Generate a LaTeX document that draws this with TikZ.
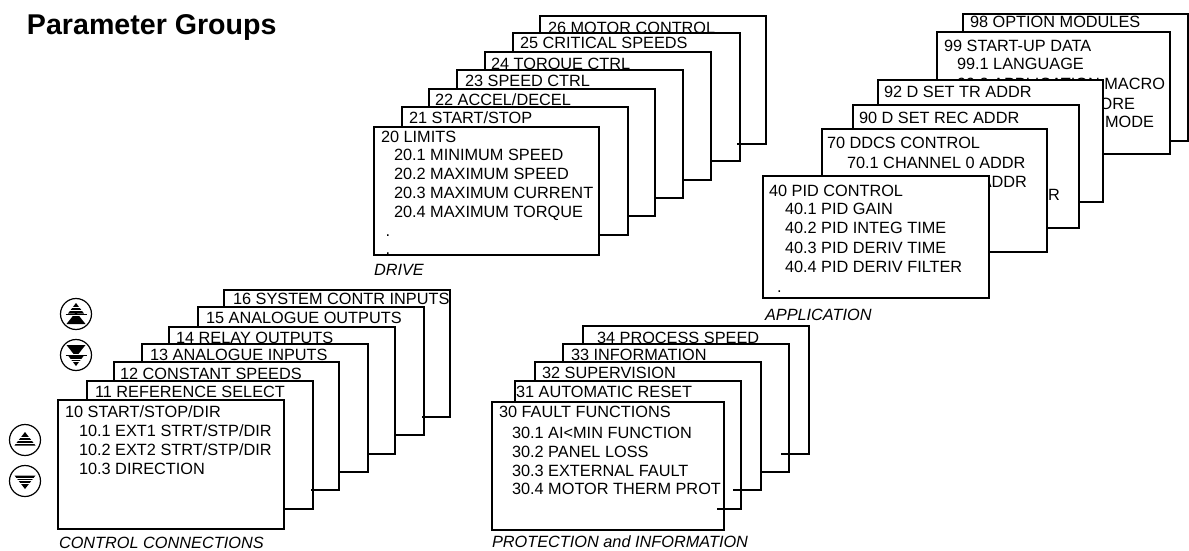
\documentclass[tikz,border=0pt]{standalone}
\usepackage{fontspec}
\setmainfont{Liberation Sans}
\newcommand{\panelbox}[5]{\node[panel,minimum width={\dimexpr #4pt-#2pt\relax},minimum height={\dimexpr #5pt-#3pt\relax}] (#1) at (#2,#3) {};}
\newcommand{\lbl}[4]{\node[lab] (#1) at (#2,#3) {#4};}
\newcommand{\lbr}[4]{\node[lab,anchor=base east] (#1) at (#2,#3) {#4};}
\newcommand{\lbi}[4]{\node[lab,font=\fontsize{16.3}{18}\selectfont\itshape] (#1) at (#2,#3) {#4};}
\tikzset{
  panel/.style={draw=black,fill=white,line width=2.1pt,rectangle,anchor=north west,inner sep=0pt,outer sep=0pt},
  lab/.style={anchor=base west,inner sep=0pt,outer sep=0pt,font=\fontsize{16.3}{18}\selectfont,text=black},
  stub/.style={draw=black,line width=2.1pt},
  keyring/.style={draw=black,fill=white,circle,line width=1.2pt,minimum size=31pt,inner sep=0pt,outer sep=0pt},
  stripe/.style={draw=white,line width=0.9pt},
  singlekey/.pic={
    \fill[black] (0,-8) -- (10.5,5.5) -- (-10.5,5.5) -- cycle;
    \draw[stripe] (-11,-2.2) -- (11,-2.2);
    \draw[stripe] (-11,0.4) -- (11,0.4);
    \draw[stripe] (-11,3) -- (11,3);
  },
  doublekey/.pic={
    \fill[black] (0,-11) -- (8,-0.5) -- (-8,-0.5) -- cycle;
    \draw[stripe] (-9,-6.8) -- (9,-6.8);
    \draw[stripe] (-9,-4) -- (9,-4);
    \fill[black] (0,-2) -- (9.5,10) -- (-9.5,10) -- cycle;
    \draw[stripe] (-11,1) -- (11,1);
    \draw[black,line width=0.7pt] (-10.5,0) -- (10.5,0);
  }
}
\begin{document}
\begin{tikzpicture}[x=1pt,y=-1pt]
\useasboundingbox (0,0) rectangle (1189,551);
\node[lab,font=\fontsize{28.6}{32}\selectfont\bfseries] (title) at (27,35) {Parameter Groups};

% DRIVE
\panelbox{b26}{540}{16}{766}{144} \lbl{t26}{548}{33.5}{26 MOTOR CONTROL}
\panelbox{b25}{513}{33}{740}{161} \lbl{t25}{520}{49}{25 CRITICAL SPEEDS}
\panelbox{b24}{485}{52}{711}{180} \lbl{t24}{491}{69.5}{24 TORQUE CTRL}
\panelbox{b23}{457}{70}{683}{198} \lbl{t23}{465}{86}{23 SPEED CTRL}
\panelbox{b22}{429}{89}{655}{216} \lbl{t22}{435}{105}{22 ACCEL/DECEL}
\panelbox{b21}{402}{107}{628}{235} \lbl{t21}{409}{123}{21 START/STOP}
\panelbox{b20}{374}{127}{599}{255}
\lbl{t20}{381}{142}{20 LIMITS}
\lbl{t201}{394}{160}{20.1 MINIMUM SPEED}
\lbl{t202}{394}{179}{20.2 MAXIMUM SPEED}
\lbl{t203}{394}{198}{20.3 MAXIMUM CURRENT}
\lbl{t204}{394}{217}{20.4 MAXIMUM TORQUE}
\lbl{t20d1}{385.5}{236}{.}
\lbl{t20d2}{385.5}{254.5}{.}
\lbi{ldrive}{374}{275}{DRIVE}

% APPLICATION
\panelbox{b98}{963}{14}{1188}{141} \lbl{t98}{970}{28}{98 OPTION MODULES}
\panelbox{b99}{937}{32}{1170}{154}
\lbl{t99}{944}{52}{99 START-UP DATA}
\lbl{t991}{957}{70}{99.1 LANGUAGE}
\lbl{t992}{957}{89}{99.2 APPLICATION MACRO}
\lbr{t993}{1135}{109}{ORE}
\lbr{t994}{1154}{128}{MODE}
\panelbox{b92}{878}{80}{1103}{202} \lbl{t92}{884}{98}{92 D SET TR ADDR}
\panelbox{b90}{853}{105}{1079}{228} \lbl{t90}{859}{123}{90 D SET REC ADDR}
\lbl{t90r}{1048}{200}{R}
\panelbox{b70}{822}{129}{1047}{252}
\lbl{t70}{827}{148}{70 DDCS CONTROL}
\lbl{t701}{847}{168}{70.1 CHANNEL 0 ADDR}
\lbr{t702}{1027}{187}{ADDR}
\panelbox{b40}{763}{176}{989}{298}
\lbl{t40}{769}{196}{40 PID CONTROL}
\lbl{t401}{785}{214}{40.1 PID GAIN}
\lbl{t402}{785}{233}{40.2 PID INTEG TIME}
\lbl{t403}{785}{253}{40.3 PID DERIV TIME}
\lbl{t404}{785}{272}{40.4 PID DERIV FILTER}
\lbl{t40d}{777}{292}{.}
\lbi{lapp}{765}{320}{APPLICATION}

% CONTROL CONNECTIONS
\panelbox{b16}{224}{290}{450}{417} \lbl{t16}{233}{304}{16 SYSTEM CONTR INPUTS}
\panelbox{b15}{198}{307}{424}{435} \lbl{t15}{206}{323}{15 ANALOGUE OUTPUTS}
\panelbox{b14}{169}{327}{395}{454} \lbl{t14}{176}{343.5}{14 RELAY OUTPUTS}
\panelbox{b13}{142}{344}{368}{472} \lbl{t13}{150}{360}{13 ANALOGUE INPUTS}
\panelbox{b12}{114}{362}{339}{490} \lbl{t12}{120}{379}{12 CONSTANT SPEEDS}
\panelbox{b11}{87}{381}{313}{509} \lbl{t11}{95}{397}{11 REFERENCE SELECT}
\panelbox{b10}{58}{400}{284}{529}
\lbl{t10}{65}{417}{10 START/STOP/DIR}
\lbl{t101}{79}{436}{10.1 EXT1 STRT/STP/DIR}
\lbl{t102}{79}{455}{10.2 EXT2 STRT/STP/DIR}
\lbl{t103}{79}{474}{10.3 DIRECTION}
\lbi{lctrl}{59}{548}{CONTROL CONNECTIONS}

% PROTECTION
\panelbox{b34}{583}{326}{809}{454} \lbl{t34}{597}{343}{34 PROCESS SPEED}
\panelbox{b33}{563}{344}{789}{472} \lbl{t33}{571}{360}{33 INFORMATION}
\panelbox{b32}{535}{362}{761}{490} \lbl{t32}{542}{378.5}{32 SUPERVISION}
\panelbox{b31}{515}{381}{741}{509} \lbl{t31}{516}{397}{31 AUTOMATIC RESET}
\panelbox{b30}{492}{402}{724}{530}
\lbl{t30}{499}{417}{30 FAULT FUNCTIONS}
\lbl{t301}{512}{438}{30.1 AI<MIN FUNCTION}
\lbl{t302}{512}{457}{30.2 PANEL LOSS}
\lbl{t303}{512}{476}{30.3 EXTERNAL FAULT}
\lbl{t304}{512}{494}{30.4 MOTOR THERM PROT}
\lbi{lprot}{492}{547}{PROTECTION and INFORMATION}

% bottom edges that run on past the panel in front
\draw[stub] (b26.south east) -- ++(-29,0);
\draw[stub] (b16.south east) -- ++(-28,0);
\draw[stub] (b12.south east) -- ++(-28,0);
\draw[stub] (b34.south east) -- ++(-28,0);
\draw[stub] (b32.south east) -- ++(-28,0);
\draw[stub] (b31.south east) -- ++(-24,0);

% keys
\node[keyring] (keyA) at (76,314) {};
\pic at (keyA.center) {doublekey};
\node[keyring] (keyB) at (76,355) {};
\pic[yscale=-1] at (keyB.center) {doublekey};
\node[keyring] (keyC) at (25,440) {};
\pic at (keyC.center) {singlekey};
\node[keyring] (keyD) at (25,481) {};
\pic[yscale=-1] at (keyD.center) {singlekey};
\end{tikzpicture}
\end{document}
